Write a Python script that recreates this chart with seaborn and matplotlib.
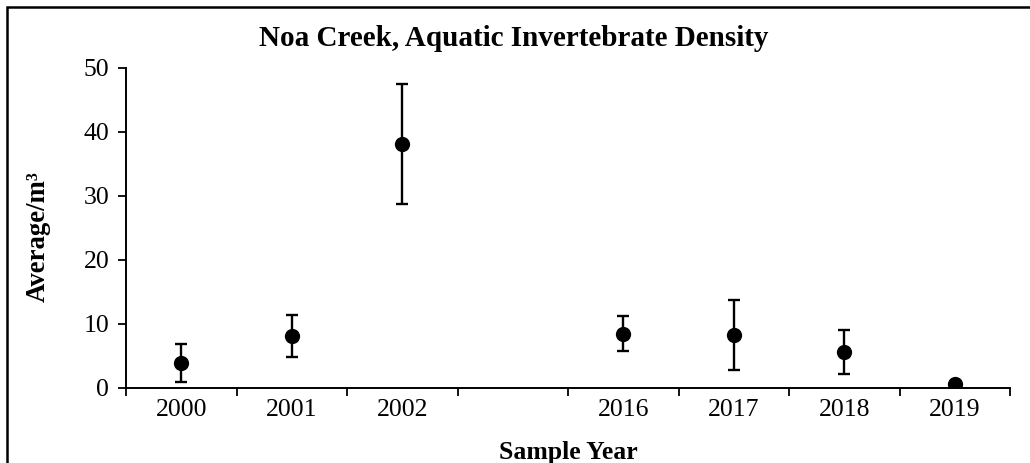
import numpy as np
import pandas as pd
import matplotlib
matplotlib.use("Agg")
import matplotlib.pyplot as plt
from matplotlib.patches import Rectangle
import seaborn as sns

# Sample years (blank slot marks the gap between survey periods)
years = ["2000", "2001", "2002", "", "2016", "2017", "2018", "2019"]
density = [3.9, 8.1, 38.1, np.nan, 8.5, 8.3, 5.6, 0.7]
std_err = [2.9, 3.3, 9.3, np.nan, 2.75, 5.5, 3.4, 0.3]

sns.set_theme(style="white")
plt.rcParams["font.family"] = ["Liberation Serif", "DejaVu Serif"]

df = pd.DataFrame({"year": years, "density": density, "err": std_err})

fig = plt.figure(figsize=(10.3, 4.63), dpi=100)
ax = fig.add_axes([126 / 1030, 1 - 388 / 463, (1010 - 126) / 1030, (388 - 67.7) / 463])

pos = np.arange(len(years))
ax.errorbar(pos, df["density"], yerr=df["err"], fmt="none", ecolor="black",
            elinewidth=1.7, capsize=4.5, capthick=1.7, zorder=2)
sns.stripplot(data=df.dropna(), x="year", y="density", order=years, jitter=False,
              color="black", size=11, linewidth=0, ax=ax, zorder=3)

ax.set_xlim(-0.5, len(years) - 0.5)
ax.set_ylim(0, 50)
ax.set_yticks(np.arange(0, 51, 10))

# category boundaries get tick marks, labels sit at slot centres
ax.set_xticks(np.arange(-0.5, len(years), 1.0))
ax.set_xticklabels([])
ax.set_xticks(pos, minor=True)
ax.set_xticklabels(years, minor=True)
ax.tick_params(axis="x", which="major", direction="out", length=6, width=1.3,
               color="black", bottom=True)
ax.tick_params(axis="x", which="minor", length=0, pad=8, labelsize=18.5,
               labelcolor="black")
ax.tick_params(axis="y", direction="out", length=6, width=1.3, color="black",
               left=True, labelsize=18.5, labelcolor="black", pad=6)

for side in ["top", "right"]:
    ax.spines[side].set_visible(False)
for side in ["left", "bottom"]:
    ax.spines[side].set_color("black")
    ax.spines[side].set_linewidth(1.4)

ax.set_xlabel("")
ax.set_ylabel("")
fig.text(568 / 1030, 1 - 452 / 463, "Sample Year", ha="center", va="center",
         fontsize=18.5, fontweight="bold", color="black")
fig.text(38 / 1030, 1 - 237 / 463, "Average/m³", ha="center", va="center",
         rotation=90, fontsize=19.3, fontweight="bold", color="black")
fig.text(514 / 1030, 1 - 39 / 463, "Noa Creek, Aquatic Invertebrate Density",
         ha="center", va="center", fontsize=21, fontweight="bold", color="black")

# chart frame
fig.patches.append(Rectangle((6.5 / 1030, -0.2), 1.2, 1.2 - 6.5 / 463,
                             transform=fig.transFigure, fill=False,
                             edgecolor="black", linewidth=1.8))

fig.savefig("out.png", dpi=100)
